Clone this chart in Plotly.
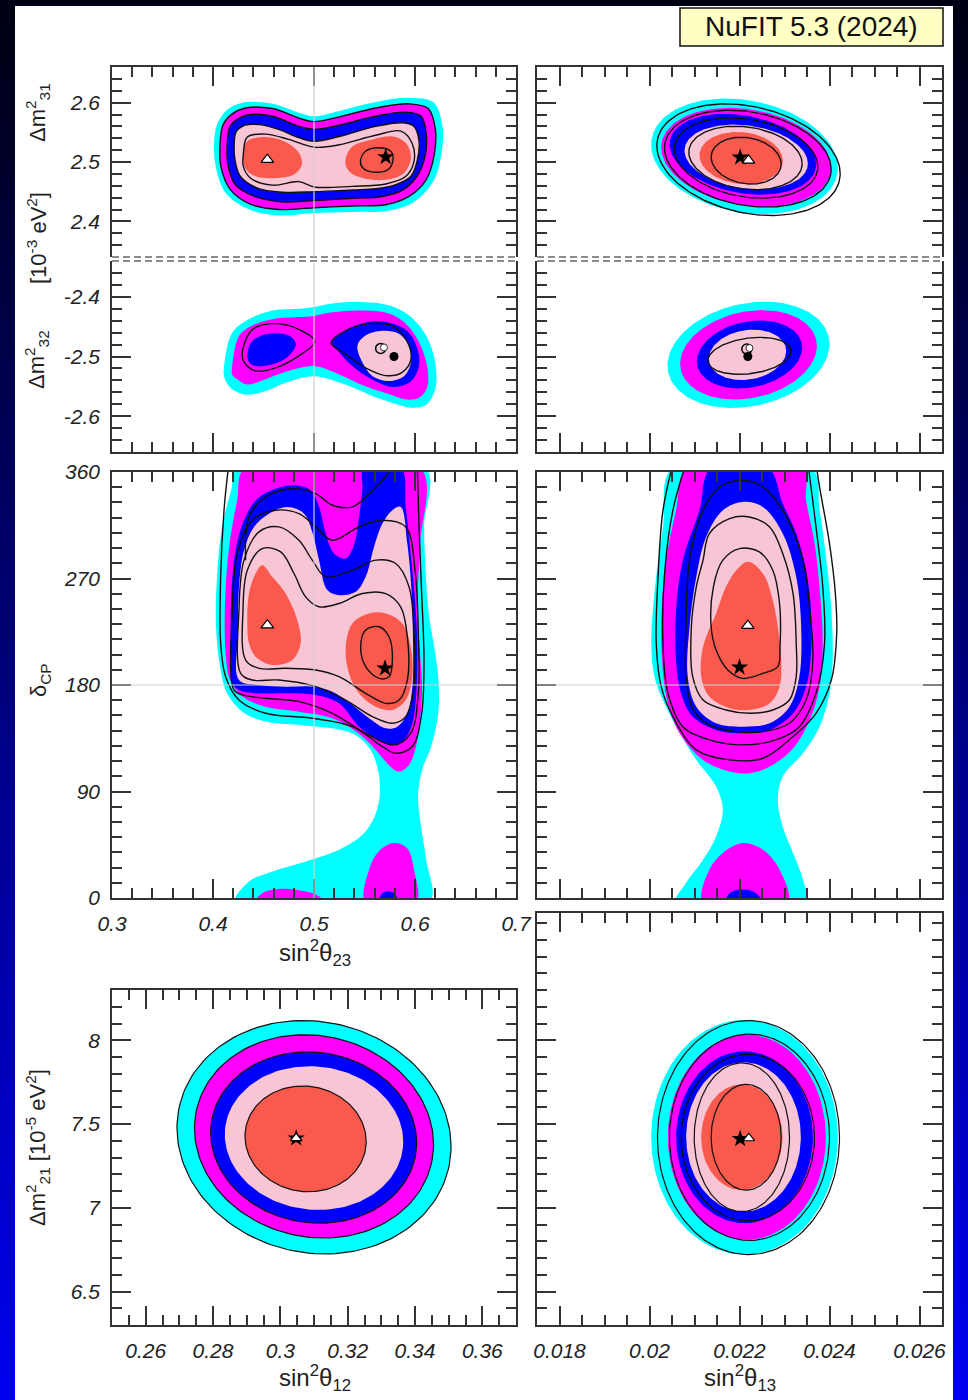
import numpy as np
import plotly.graph_objects as go

W, H = 968, 1400
def PX(v): return v / W
def PY(v): return 1 - v / H

CYAN, MAG, BLUE, PINK, RED = "#00ffff", "#ff00ff", "#0000ff", "#f8c5d5", "#fa5a4e"

# ---------------- Panel A : dm31 vs s23 ----------------
A_cyan = [(0.401,2.529),(0.404,2.563),(0.414,2.588),(0.429,2.600),(0.459,2.598),(0.485,2.583),(0.500,2.577),(0.525,2.586),(0.561,2.601),(0.594,2.608),(0.618,2.601),(0.627,2.563),(0.626,2.512),(0.618,2.467),(0.600,2.434),(0.574,2.418),(0.538,2.416),(0.500,2.414),(0.465,2.410),(0.436,2.420),(0.4125,2.448),(0.403,2.490)]
A_mag = [(0.407,2.529),(0.410,2.563),(0.419,2.581),(0.432,2.591),(0.459,2.590),(0.485,2.574),(0.500,2.568),(0.525,2.576),(0.561,2.591),(0.594,2.598),(0.613,2.590),(0.620,2.557),(0.619,2.512),(0.611,2.470),(0.594,2.442),(0.571,2.428),(0.538,2.426),(0.500,2.423),(0.465,2.420),(0.437,2.429),(0.417,2.454),(0.408,2.491)]
A_blue = [(0.414,2.529),(0.417,2.560),(0.426,2.574),(0.437,2.580),(0.459,2.577),(0.485,2.560),(0.500,2.555),(0.525,2.562),(0.561,2.577),(0.591,2.584),(0.606,2.577),(0.611,2.549),(0.610,2.510),(0.602,2.476),(0.588,2.453),(0.568,2.442),(0.538,2.439),(0.500,2.435),(0.467,2.433),(0.441,2.442),(0.422,2.462),(0.415,2.493)]
A_pink = [(0.421,2.529),(0.423,2.551),(0.432,2.562),(0.446,2.563),(0.465,2.555),(0.485,2.541),(0.500,2.535),(0.525,2.543),(0.561,2.560),(0.588,2.566),(0.599,2.560),(0.604,2.535),(0.602,2.501),(0.596,2.476),(0.581,2.462),(0.561,2.455),(0.538,2.453),(0.500,2.450),(0.469,2.449),(0.444,2.456),(0.427,2.476),(0.422,2.501)]
A_red_left = [(0.430,2.518),(0.434,2.535),(0.449,2.542),(0.469,2.536),(0.484,2.518),(0.488,2.496),(0.480,2.479),(0.462,2.473),(0.442,2.476),(0.432,2.490)]
A_red_right = [(0.531,2.501),(0.538,2.526),(0.558,2.538),(0.578,2.543),(0.591,2.532),(0.596,2.507),(0.589,2.481),(0.571,2.470),(0.548,2.473),(0.535,2.484)]
A_line_90 = [(0.430,2.512),(0.434,2.542),(0.452,2.547),(0.475,2.538),(0.500,2.525),(0.525,2.529),(0.561,2.545),(0.586,2.552),(0.597,2.532),(0.599,2.501),(0.591,2.476),(0.571,2.463),(0.538,2.459),(0.500,2.458),(0.485,2.467),(0.459,2.461),(0.437,2.473),(0.430,2.493)]
A_line_1s = [(0.546,2.501),(0.551,2.518),(0.564,2.524),(0.576,2.518),(0.578,2.501),(0.573,2.487),(0.559,2.483),(0.549,2.489)]
A_tri = (0.4538, 2.5039)
A_star = (0.5710, 2.5084)

# ---------------- Panel B : dm32 vs s23 ----------------
B_cyan = [(0.411,-2.516),(0.419,-2.460),(0.436,-2.437),(0.459,-2.423),(0.485,-2.420),(0.500,-2.417),(0.518,-2.411),(0.551,-2.409),(0.574,-2.414),(0.594,-2.431),(0.611,-2.465),(0.620,-2.510),(0.620,-2.555),(0.611,-2.581),(0.597,-2.586),(0.578,-2.578),(0.558,-2.566),(0.531,-2.547),(0.500,-2.533),(0.472,-2.544),(0.452,-2.558),(0.432,-2.564),(0.417,-2.552),(0.411,-2.533)]
B_mag = [(0.419,-2.516),(0.426,-2.465),(0.439,-2.448),(0.460,-2.437),(0.485,-2.434),(0.500,-2.432),(0.518,-2.426),(0.551,-2.423),(0.574,-2.428),(0.591,-2.445),(0.604,-2.476),(0.612,-2.516),(0.612,-2.552),(0.604,-2.569),(0.591,-2.572),(0.574,-2.563),(0.551,-2.550),(0.525,-2.530),(0.500,-2.516),(0.475,-2.524),(0.452,-2.538),(0.434,-2.547),(0.424,-2.538),(0.419,-2.530)]
B_blue_left = [(0.434,-2.499),(0.439,-2.474),(0.455,-2.462),(0.475,-2.465),(0.482,-2.479),(0.475,-2.499),(0.459,-2.513),(0.442,-2.516),(0.436,-2.510)]
B_blue_right = [(0.518,-2.476),(0.531,-2.457),(0.551,-2.443),(0.574,-2.443),(0.594,-2.460),(0.604,-2.499),(0.602,-2.527),(0.594,-2.544),(0.578,-2.551),(0.558,-2.539),(0.538,-2.516),(0.525,-2.493)]
B_pink = [(0.543,-2.482),(0.551,-2.465),(0.568,-2.457),(0.584,-2.462),(0.594,-2.482),(0.596,-2.510),(0.589,-2.533),(0.574,-2.541),(0.558,-2.533),(0.548,-2.510)]
B_line_left = [(0.429,-2.493),(0.439,-2.455),(0.462,-2.445),(0.488,-2.457),(0.501,-2.475),(0.485,-2.499),(0.462,-2.519),(0.442,-2.524),(0.431,-2.510)]
B_line_right = [(0.517,-2.477),(0.531,-2.457),(0.554,-2.445),(0.578,-2.449),(0.592,-2.474),(0.596,-2.505),(0.587,-2.527),(0.571,-2.532),(0.551,-2.519),(0.531,-2.496)]
B_open = (0.5660, -2.4865)
B_white = (0.5693, -2.4848)
B_black = (0.5792, -2.5000)

# ---------------- ellipse parameters (cx, cy, half-width, half-height, correlation) ----
C_fill = [(0.022111,2.5096,0.002074,0.0974,-0.20),(0.022148,2.5079,0.001889,0.0833,-0.20),
          (0.022074,2.5130,0.001630,0.0681,-0.25),(0.022148,2.5084,0.001370,0.0546,-0.20),
          (0.022037,2.5068,0.000926,0.0439,-0.10)]
C_line = [(0.022200,2.5039,0.002037,0.0940,-0.25),(0.022185,2.5056,0.001852,0.0816,-0.22),
          (0.022148,2.5068,0.001593,0.0676,-0.22),(0.022133,2.5068,0.001259,0.0535,-0.18),
          (0.022148,2.5023,0.000778,0.0394,-0.15)]
C_tri = (0.022200, 2.5028)
C_star = (0.022015, 2.5079)

D_fill = [(0.022200,-2.4972,0.001800,0.0890,0.20),(0.022200,-2.4972,0.001519,0.0749,0.20),
          (0.022222,-2.4966,0.001170,0.0569,0.20),(0.022178,-2.4972,0.000859,0.0422,0.15)]
D_line = [(0.022222,-2.4989,0.000926,0.0310,0.25)]
D_open = (0.022163, -2.4876)
D_white = (0.022222, -2.4859)
D_black = (0.022185, -2.5000)

G_fill = [(0.3100,7.4211,0.0407,0.6967,-0.08),(0.3100,7.4260,0.0355,0.6069,-0.08),
          (0.3099,7.4191,0.0306,0.5112,-0.06),(0.3100,7.4161,0.0265,0.4293,-0.05),
          (0.3075,7.4112,0.0180,0.3158,-0.05)]
G_mark = (0.3047, 7.4151)

H_fill = [(0.022111,7.4211,0.002074,0.7006,0.0),(0.022163,7.4211,0.001756,0.6118,0.0),
          (0.022111,7.4211,0.001519,0.5131,0.0),(0.022089,7.4230,0.001274,0.4460,0.0),
          (0.022052,7.4211,0.000904,0.3158,0.0)]
H_line = [(0.022200,7.4191,0.002022,0.6986,0.0),(0.022222,7.4211,0.001778,0.6158,0.0),
          (0.022185,7.4191,0.001481,0.4974,0.0),(0.022052,7.4211,0.001059,0.4440,0.0),
          (0.022148,7.4211,0.000778,0.3158,0.0)]
H_star = (0.022015, 7.4112)
H_tri = (0.022207, 7.4151)

# ---------------- Panel E : dCP vs s23 ----------------
E_cyan = [(0.425,364),(0.418,344.5),(0.409,313.6),(0.404,271.4),(0.403,229.2),(0.407,195.5),(0.414,173),(0.429,157.5),(0.452,149.1),(0.485,146.3),(0.518,143.4),(0.541,137.8),(0.556,125.2),(0.564,105.5),(0.565,85.8),(0.560,68.9),(0.548,53.4),(0.525,40.8),(0.492,30.9),(0.459,22.5),(0.436,14.1),(0.422,-4),(0.614,-4),(0.611,32.3),(0.606,60.5),(0.603,85.8),(0.607,108.3),(0.616,128),(0.623,156.1),(0.623,187),(0.619,212.3),(0.614,237.7),(0.611,268.6),(0.609,313.6),(0.610,364)]
E_mag = [(0.432,364),(0.424,336.1),(0.416,296.7),(0.412,251.7),(0.4125,206.7),(0.417,184.2),(0.429,170.2),(0.452,161.7),(0.485,157.5),(0.518,151.9),(0.544,139.2),(0.561,125.2),(0.574,112.5),(0.584,106.9),(0.594,112.5),(0.601,128),(0.605,150.5),(0.607,178.6),(0.605,206.7),(0.603,234.8),(0.603,263),(0.605,299.5),(0.605,364)]
E_mag_bot1 = [(0.4416,-4),(0.449,4.2),(0.465,7.6),(0.485,6.5),(0.502,2.8),(0.512,-4)]
E_mag_bot2 = [(0.551,-4),(0.5545,23.9),(0.564,39.4),(0.579,46.4),(0.592,42.2),(0.599,23.9),(0.601,-4)]
E_blue = [(0.4191,181.4),(0.4175,223.6),(0.4185,263),(0.4224,293.9),(0.4307,319.2),(0.4439,337.5),(0.4620,345.9),(0.4818,348.75),(0.4967,344.5),(0.5050,330.5),(0.5116,308),(0.5198,291.1),(0.5314,286.9),(0.5396,298.1),(0.5446,322),(0.5479,344.5),(0.5495,364),(0.5858,364),(0.5908,330.5),(0.5957,291.1),(0.6000,251.7),(0.6023,212.3),(0.6013,173),(0.5974,147.7),(0.5891,133.6),(0.5776,129.4),(0.5611,135),(0.5446,144.8),(0.5248,164.5),(0.5017,171.6),(0.4719,173),(0.4422,173),(0.4257,175.8)]
E_blue_bot = [(0.5644,-4),(0.5677,4.2),(0.5743,5.6),(0.5809,2.8),(0.5825,-4)]
E_pink = [(0.4257,184.2),(0.4247,223.6),(0.4257,263),(0.4307,293.9),(0.4406,313.6),(0.4554,324.8),(0.4736,330.5),(0.4901,324.8),(0.4983,309.4),(0.5050,285.5),(0.5132,260.2),(0.5248,255.9),(0.5413,258.75),(0.5512,271.4),(0.5594,296.7),(0.5677,316.4),(0.5776,327.7),(0.5858,330.5),(0.5924,299.5),(0.5967,257.3),(0.5980,218),(0.5974,178.6),(0.5924,156.1),(0.5825,144.8),(0.5710,143.4),(0.5545,151.9),(0.5380,163.1),(0.5182,174.4),(0.4983,178.6),(0.4719,178.6),(0.4455,180)]
E_red_left = [(0.4340,229.2),(0.4356,257.3),(0.4422,274.2),(0.4488,281.25),(0.4587,271.4),(0.4719,257.3),(0.4835,234.8),(0.4868,215.2),(0.4785,201.1),(0.4587,196.9),(0.4422,203.9),(0.4356,215.2)]
E_red_right = [(0.5314,212.3),(0.5380,232),(0.5545,240.5),(0.5710,240.5),(0.5875,232),(0.5957,212.3),(0.5974,187),(0.5908,167.3),(0.5776,158.9),(0.5611,161.7),(0.5446,173),(0.5347,189.8)]
E_line_1s = [(0.5462,212.3),(0.5512,226.4),(0.5644,229.2),(0.5743,220.8),(0.5776,201.1),(0.5743,187),(0.5644,185.6),(0.5512,195.5)]
E_line_90 = [(0.4323,201.1),(0.4297,243.3),(0.4340,277),(0.4488,295.3),(0.4670,292.5),(0.4802,274.2),(0.4917,254.5),(0.5050,246.1),(0.5248,248.9),(0.5479,257.3),(0.5710,257.3),(0.5858,246.1),(0.5924,220.8),(0.5924,184.2),(0.5842,167.3),(0.5710,164.5),(0.5512,173),(0.5248,187),(0.5017,192.7),(0.4719,194.1),(0.4455,194.1)]
E_line_2s = [(0.4274,189.8),(0.4257,243.3),(0.4307,285.5),(0.4455,309.4),(0.4653,313.6),(0.4851,302.3),(0.4983,285.5),(0.5116,271.4),(0.5380,277),(0.5611,285.5),(0.5809,282.7),(0.5941,263),(0.5990,223.6),(0.5990,178.6),(0.5908,153.3),(0.5776,147.7),(0.5578,153.3),(0.5314,167.3),(0.5017,178.6),(0.4653,184.2),(0.4389,184.2)]
E_line_99 = [(0.4208,175.8),(0.4191,243.3),(0.4241,291.1),(0.4389,319.2),(0.4620,327.7),(0.4851,324.8),(0.5017,313.6),(0.5182,302.3),(0.5446,313.6),(0.5677,319.2),(0.5908,313.6),(0.6000,277),(0.6033,223.6),(0.6033,173),(0.5957,139.2),(0.5792,129.4),(0.5512,139.2),(0.5182,156.1),(0.4851,165.9),(0.4521,168.75),(0.4290,171.6)]
E_line_3s = [(0.4158,368),(0.4109,327.7),(0.4076,271.4),(0.4076,215.2),(0.4125,187),(0.4257,167.3),(0.4521,156.1),(0.4983,151.9),(0.5380,144.8),(0.5677,128),(0.5809,122.3),(0.5974,128),(0.6066,156.1),(0.6089,201.1),(0.6066,257.3),(0.6040,313.6),(0.6023,364)]
E_line_top = [(0.4323,285.5),(0.4356,322),(0.4521,338.9),(0.4785,345.9),(0.5017,341.7),(0.5182,331.9),(0.5380,330.5),(0.5512,338.9),(0.5677,353),(0.5776,364)]
E_tri = (0.4538, 230.6)
E_star = (0.5703, 194.1)

# ---------------- Panel F : dCP vs s13 ----------------
F_cyan = [(0.02052,364),(0.02030,313.6),(0.02011,257.3),(0.02004,215.2),(0.02011,187),(0.02030,167.3),(0.02059,144.8),(0.02104,116.7),(0.02148,94.2),(0.02163,74.5),(0.02148,52),(0.02119,32.3),(0.02081,12.7),(0.02059,-4),(0.02348,-4),(0.02341,15.5),(0.02319,38),(0.02296,60.5),(0.02285,83),(0.02296,102.7),(0.02341,122.3),(0.02378,144.8),(0.02400,173),(0.02407,201.1),(0.02404,243.3),(0.02393,285.5),(0.02378,327.7),(0.02359,364)]
F_mag = [(0.02085,364),(0.02059,327.7),(0.02037,285.5),(0.02027,243.3),(0.02028,201.1),(0.02039,167.3),(0.02067,139.2),(0.02119,116.7),(0.02178,106.9),(0.02222,105.5),(0.02267,111.1),(0.02319,126.6),(0.02356,150.5),(0.02378,178.6),(0.02385,215.2),(0.02379,257.3),(0.02367,299.5),(0.02348,336.1),(0.02341,364)]
F_mag_bot = [(0.02119,-4),(0.02133,23.9),(0.02163,38),(0.02207,46.4),(0.02252,40.8),(0.02289,23.9),(0.02307,-4)]
F_blue = [(0.02137,364),(0.02111,327.7),(0.02074,285.5),(0.02059,243.3),(0.02059,201.1),(0.02070,173),(0.02096,153.3),(0.02148,142),(0.02207,139.2),(0.02267,142),(0.02319,156.1),(0.02348,178.6),(0.02359,206.7),(0.02359,243.3),(0.02348,277),(0.02326,308),(0.02296,333.3),(0.02263,364)]
F_blue_bot = [(0.02170,-4),(0.02178,4.2),(0.02200,7.0),(0.02230,5.6),(0.02252,-4)]
F_pink = [(0.02207,334.7),(0.02252,330.5),(0.02296,308),(0.02326,271.4),(0.02337,229.2),(0.02333,187),(0.02311,161.7),(0.02267,147.7),(0.02207,144.8),(0.02148,147.7),(0.02104,161.7),(0.02085,187),(0.02089,229.2),(0.02104,271.4),(0.02126,305.2),(0.02163,327.7)]
F_red = [(0.02219,284.1),(0.02252,274.2),(0.02274,251.7),(0.02289,218),(0.02293,195.5),(0.02289,178.6),(0.02267,164.5),(0.02222,158.9),(0.02178,160.3),(0.02133,170.2),(0.02115,187),(0.02119,212.3),(0.02148,240.5),(0.02170,263),(0.02193,277)]
F_line_1s = [(0.02137,229.2),(0.02142,263),(0.02163,285.5),(0.02200,295.3),(0.02244,292.5),(0.02274,277),(0.02289,248.9),(0.02290,212.3),(0.02285,195.5),(0.02252,189.8),(0.02207,185.6),(0.02174,192.7),(0.02148,209.5)]
F_line_90 = [(0.02119,285.5),(0.02133,308),(0.02178,320.6),(0.02222,322),(0.02267,313.6),(0.02296,291.1),(0.02319,257.3),(0.02326,215.2),(0.02326,187),(0.02311,167.3),(0.02274,158.9),(0.02222,156.1),(0.02170,158.9),(0.02119,167.3),(0.02096,187),(0.02093,229.2),(0.02104,263)]
F_line_2s = [(0.02081,229.2),(0.02089,285.5),(0.02119,327.7),(0.02156,347.3),(0.02207,353),(0.02252,347.3),(0.02296,327.7),(0.02341,285.5),(0.02356,243.3),(0.02363,201.1),(0.02348,167.3),(0.02311,147.7),(0.02252,140.6),(0.02193,140.6),(0.02133,146.25),(0.02096,160.3),(0.02081,187)]
F_line_99 = [(0.02081,367),(0.02052,327.7),(0.02033,271.4),(0.02030,215.2),(0.02041,173),(0.02074,144.8),(0.02133,133.6),(0.02207,129.4),(0.02281,133.6),(0.02333,144.8),(0.02370,173),(0.02389,215.2),(0.02385,263),(0.02370,313.6),(0.02356,355.8),(0.02352,367)]
F_line_3s = [(0.02052,367),(0.02030,327.7),(0.02019,271.4),(0.02015,215.2),(0.02026,178.6),(0.02052,153.3),(0.02104,125.2),(0.02178,116.7),(0.02252,118.1),(0.02319,136.4),(0.02370,156.1),(0.02404,184.2),(0.02416,223.6),(0.02413,257.3),(0.02400,299.5),(0.02378,347.3),(0.02370,367)]
F_tri = (0.022185, 230.1)
F_star = (0.022000, 194.9)

# ---------------- axis ticks / labels ----------------
s23_ticks = [0.3, 0.4, 0.5, 0.6, 0.7]
s23_labels = ["0.3", "0.4", "0.5", "0.6", "0.7"]
s13_ticks = [0.018, 0.020, 0.022, 0.024, 0.026]
s13_labels = ["0.018", "0.02", "0.022", "0.024", "0.026"]
s12_ticks = [0.26, 0.28, 0.30, 0.32, 0.34, 0.36]
s12_labels = ["0.26", "0.28", "0.3", "0.32", "0.34", "0.36"]
dm31_ticks = [2.4, 2.5, 2.6]
dm31_labels = ["2.4", "2.5", "2.6"]
dm32_ticks = [-2.6, -2.5, -2.4]
dm32_labels = ["-2.6", "-2.5", "-2.4"]
dcp_ticks = [0, 90, 180, 270, 360]
dcp_labels = ["0", "90", "180", "270", "360"]
dm21_ticks = [6.5, 7.0, 7.5, 8.0]
dm21_labels = ["6.5", "7", "7.5", "8"]

fig = go.Figure()

def ax_names(k):
    return ("x" if k == 1 else "x%d" % k), ("y" if k == 1 else "y%d" % k)

def closed(pts):
    xs = [p[0] for p in pts] + [pts[0][0]]
    ys = [p[1] for p in pts] + [pts[0][1]]
    return xs, ys

def fill_poly(pts, color, k):
    xa, ya = ax_names(k)
    xs, ys = closed(pts)
    fig.add_trace(go.Scatter(x=xs, y=ys, mode="lines", fill="toself", fillcolor=color,
                             line=dict(width=0, shape="spline", smoothing=1.0, color=color),
                             xaxis=xa, yaxis=ya, hoverinfo="skip", showlegend=False))

def line_poly(pts, k, close=True, width=1.4):
    xa, ya = ax_names(k)
    if close:
        xs, ys = closed(pts)
    else:
        xs = [p[0] for p in pts]; ys = [p[1] for p in pts]
    fig.add_trace(go.Scatter(x=xs, y=ys, mode="lines",
                             line=dict(width=width, shape="spline", smoothing=1.0, color="#111"),
                             xaxis=xa, yaxis=ya, hoverinfo="skip", showlegend=False))

def ellipse_pts(e):
    cx, cy, a, b, s = e
    t = np.linspace(0, 2 * np.pi, 161)
    ph = np.arcsin(s)
    return cx + a * np.cos(t), cy + b * np.sin(t + ph)

def fill_ell(e, color, k):
    xa, ya = ax_names(k)
    xs, ys = ellipse_pts(e)
    fig.add_trace(go.Scatter(x=xs, y=ys, mode="lines", fill="toself", fillcolor=color,
                             line=dict(width=0, color=color), xaxis=xa, yaxis=ya,
                             hoverinfo="skip", showlegend=False))

def line_ell(e, k, width=1.4):
    xa, ya = ax_names(k)
    xs, ys = ellipse_pts(e)
    fig.add_trace(go.Scatter(x=xs, y=ys, mode="lines", line=dict(width=width, color="#111"),
                             xaxis=xa, yaxis=ya, hoverinfo="skip", showlegend=False))

def marker(p, k, symbol, color, size, lc="#000", lw=1.2):
    xa, ya = ax_names(k)
    fig.add_trace(go.Scatter(x=[p[0]], y=[p[1]], mode="markers",
                             marker=dict(symbol=symbol, color=color, size=size,
                                         line=dict(color=lc, width=lw)),
                             xaxis=xa, yaxis=ya, hoverinfo="skip", showlegend=False, cliponaxis=False))

fill_colors = [CYAN, MAG, BLUE, PINK, RED]

# Panel A (1)
fill_poly(A_cyan, CYAN, 1); fill_poly(A_mag, MAG, 1); fill_poly(A_blue, BLUE, 1)
fill_poly(A_pink, PINK, 1); fill_poly(A_red_left, RED, 1); fill_poly(A_red_right, RED, 1)
for L in (A_mag, A_blue, A_pink, A_line_90, A_line_1s):
    line_poly(L, 1)
marker(A_tri, 1, "triangle-up", "white", 11)
marker(A_star, 1, "star", "black", 13, lw=0)

# Panel B (2)
fill_poly(B_cyan, CYAN, 2); fill_poly(B_mag, MAG, 2)
fill_poly(B_blue_left, BLUE, 2); fill_poly(B_blue_right, BLUE, 2); fill_poly(B_pink, PINK, 2)
line_poly(B_line_left, 2); line_poly(B_line_right, 2)
marker(B_open, 2, "circle-open", "black", 10, lw=1.5)
marker(B_white, 2, "circle", "white", 7, lw=0.8)
marker(B_black, 2, "circle", "black", 9, lw=0)

# Panel C (3)
for e, c in zip(C_fill, fill_colors):
    fill_ell(e, c, 3)
for e in C_line:
    line_ell(e, 3)
marker(C_star, 3, "star", "black", 13, lw=0)
marker(C_tri, 3, "triangle-up", "white", 11)

# Panel D (4)
for e, c in zip(D_fill, fill_colors):
    fill_ell(e, c, 4)
for e in D_line:
    line_ell(e, 4)
marker(D_open, 4, "circle-open", "black", 10, lw=1.5)
marker(D_white, 4, "circle", "white", 7, lw=0.8)
marker(D_black, 4, "circle", "black", 9, lw=0)

# Panel E (5)
fill_poly(E_cyan, CYAN, 5); fill_poly(E_mag, MAG, 5)
fill_poly(E_mag_bot1, MAG, 5); fill_poly(E_mag_bot2, MAG, 5)
fill_poly(E_blue, BLUE, 5); fill_poly(E_blue_bot, BLUE, 5)
fill_poly(E_pink, PINK, 5); fill_poly(E_red_left, RED, 5); fill_poly(E_red_right, RED, 5)
for L in (E_line_1s, E_line_90, E_line_2s, E_line_99):
    line_poly(L, 5)
line_poly(E_line_3s, 5, close=False); line_poly(E_line_top, 5, close=False)
marker(E_tri, 5, "triangle-up", "white", 11)
marker(E_star, 5, "star", "black", 13, lw=0)

# Panel F (6)
fill_poly(F_cyan, CYAN, 6); fill_poly(F_mag, MAG, 6); fill_poly(F_mag_bot, MAG, 6)
fill_poly(F_blue, BLUE, 6); fill_poly(F_blue_bot, BLUE, 6)
fill_poly(F_pink, PINK, 6); fill_poly(F_red, RED, 6)
for L in (F_line_1s, F_line_90, F_line_2s):
    line_poly(L, 6)
line_poly(F_line_99, 6, close=False); line_poly(F_line_3s, 6, close=False)
marker(F_tri, 6, "triangle-up", "white", 11)
marker(F_star, 6, "star", "black", 13, lw=0)

# Panel G (7)
for e, c in zip(G_fill, fill_colors):
    fill_ell(e, c, 7)
for i in (0, 1, 2, 4):
    line_ell(G_fill[i], 7, width=1.2)
marker(G_mark, 7, "star", "black", 13, lw=0)
marker(G_mark, 7, "triangle-up", "white", 10)

# Panel H (8)
for e, c in zip(H_fill, fill_colors):
    fill_ell(e, c, 8)
for e in H_line:
    line_ell(e, 8, width=1.2)
marker(H_star, 8, "star", "black", 13, lw=0)
marker(H_tri, 8, "triangle-up", "white", 10)

# ---------------- layout ----------------
TF = dict(family="Liberation Sans, Arial, sans-serif", size=21, color="#222", style="italic")

def mk_axis(domain, rng, tv, tt, minor_vals, anchor, side, mirror, labels):
    return dict(domain=domain, range=rng, tickmode="array", tickvals=tv, ticktext=tt,
                ticks="inside", ticklen=19, tickwidth=1.5, tickcolor="#333",
                showline=True, linecolor="#333", linewidth=1.5, mirror=mirror, side=side,
                showticklabels=labels, showgrid=False, zeroline=False, anchor=anchor,
                automargin=False, tickfont=TF, ticklabelstandoff=6, fixedrange=True,
                minor=dict(ticks="inside", ticklen=10, tickwidth=1.5, tickcolor="#333",
                           tickmode="array", tickvals=list(minor_vals), showgrid=False))

xL = [PX(112), PX(516)]
xR = [PX(537), PX(942)]
yA = [PY(257), PY(67)]
yB = [PY(452), PY(261)]
yE = [PY(898), PY(472)]
yG = [PY(1325), PY(990)]
yH = [PY(1325), PY(913)]

m_s23 = np.round(np.arange(0.30, 0.7001, 0.02), 4)
m_s13 = np.round(np.arange(0.0175, 0.02651, 0.0005), 5)
m_s12 = np.round(np.arange(0.25, 0.3701, 0.005), 4)
m_dm31 = np.round(np.arange(2.34, 2.6601, 0.02), 3)
m_dm32 = np.round(np.arange(-2.66, -2.3399, 0.02), 3)
m_dcp = np.round(np.arange(0, 29) * 90.0 / 7.0, 3)
m_dm21 = np.round(np.arange(6.3, 8.801, 0.1), 2)

lay = dict(
    xaxis=mk_axis(xL, [0.3, 0.7], s23_ticks, s23_labels, m_s23, "y", "top", False, False),
    yaxis=mk_axis(yA, [2.34, 2.66], dm31_ticks, dm31_labels, m_dm31, "x", "left", "ticks", True),
    xaxis2=mk_axis(xL, [0.3, 0.7], s23_ticks, s23_labels, m_s23, "y2", "bottom", False, False),
    yaxis2=mk_axis(yB, [-2.66, -2.34], dm32_ticks, dm32_labels, m_dm32, "x2", "left", "ticks", True),
    xaxis3=mk_axis(xR, [0.0175, 0.0265], s13_ticks, s13_labels, m_s13, "y3", "top", False, False),
    yaxis3=mk_axis(yA, [2.34, 2.66], dm31_ticks, dm31_labels, m_dm31, "x3", "left", "ticks", False),
    xaxis4=mk_axis(xR, [0.0175, 0.0265], s13_ticks, s13_labels, m_s13, "y4", "bottom", False, False),
    yaxis4=mk_axis(yB, [-2.66, -2.34], dm32_ticks, dm32_labels, m_dm32, "x4", "left", "ticks", False),
    xaxis5=mk_axis(xL, [0.3, 0.7], s23_ticks, s23_labels, m_s23, "y5", "bottom", "ticks", True),
    yaxis5=mk_axis(yE, [0, 360], dcp_ticks, dcp_labels, m_dcp, "x5", "left", "ticks", True),
    xaxis6=mk_axis(xR, [0.0175, 0.0265], s13_ticks, s13_labels, m_s13, "y6", "bottom", "ticks", False),
    yaxis6=mk_axis(yE, [0, 360], dcp_ticks, dcp_labels, m_dcp, "x6", "left", "ticks", False),
    xaxis7=mk_axis(xL, [0.25, 0.37], s12_ticks, s12_labels, m_s12, "y7", "bottom", "ticks", True),
    yaxis7=mk_axis(yG, [6.3, 8.3], dm21_ticks, dm21_labels, m_dm21, "x7", "left", "ticks", True),
    xaxis8=mk_axis(xR, [0.0175, 0.0265], s13_ticks, s13_labels, m_s13, "y8", "bottom", "ticks", True),
    yaxis8=mk_axis(yH, [6.3, 8.76], dm21_ticks, dm21_labels, m_dm21, "x8", "left", "ticks", False),
)

shapes = []
NST = 70
for i in range(NST):
    f = (i + 0.5) / NST
    b = int(18 + 222 * f)
    shapes.append(dict(type="rect", xref="paper", yref="paper", x0=0, x1=1,
                       y0=1 - (i + 1) / NST - 0.001, y1=1 - i / NST,
                       fillcolor="rgb(0,0,%d)" % b, line=dict(width=0), layer="below"))
shapes.append(dict(type="rect", xref="paper", yref="paper", x0=PX(15), x1=PX(953), y0=0, y1=PY(6),
                   fillcolor="white", line=dict(width=0), layer="below"))
for (xa, ya, yv) in (("x", "y", 0), ("x2", "y2", 1), ("x3", "y3", 0), ("x4", "y4", 1)):
    shapes.append(dict(type="line", xref=xa + " domain", yref=ya + " domain", x0=0, x1=1, y0=yv, y1=yv,
                       line=dict(color="#666", width=1.5, dash="7px,4px"), layer="above"))
for ya in ("y", "y2", "y5"):
    xa = {"y": "x", "y2": "x2", "y5": "x5"}[ya]
    shapes.append(dict(type="line", xref=xa, yref=ya + " domain", x0=0.5, x1=0.5, y0=0, y1=1,
                       line=dict(color="#d0d0d0", width=1.2), layer="above"))
for xa, ya in (("x5", "y5"), ("x6", "y6")):
    shapes.append(dict(type="line", xref=xa + " domain", yref=ya, x0=0, x1=1, y0=180, y1=180,
                       line=dict(color="#d0d0d0", width=1.2), layer="above"))
shapes.append(dict(type="rect", xref="paper", yref="paper", x0=PX(680), x1=PX(943), y0=PY(46), y1=PY(8),
                   fillcolor="#ffffc4", line=dict(color="#111", width=1.5), layer="above"))

AF = dict(family="Liberation Sans, Arial, sans-serif", size=22, color="#222")
AF2 = dict(family="Liberation Sans, Arial, sans-serif", size=24, color="#222")
annots = [
    dict(x=PX(811), y=PY(27), text="NuFIT 5.3 (2024)", font=dict(family="Liberation Sans, Arial, sans-serif", size=28, color="#111")),
    dict(x=PX(37), y=PY(113), text="Δm<sup>2</sup><sub>31</sub>", textangle=-90, font=AF),
    dict(x=PX(37), y=PY(238), text="[10<sup>-3</sup> eV<sup>2</sup>]", textangle=-90, font=AF),
    dict(x=PX(37), y=PY(360), text="Δm<sup>2</sup><sub>32</sub>", textangle=-90, font=AF),
    dict(x=PX(40), y=PY(680), text="δ<sub>CP</sub>", textangle=-90, font=AF),
    dict(x=PX(37), y=PY(1148), text="Δm<sup>2</sup><sub>21</sub> [10<sup>-5</sup> eV<sup>2</sup>]", textangle=-90, font=AF),
    dict(x=PX(315), y=PY(953), text="sin<sup>2</sup>θ<sub>23</sub>", font=AF2),
    dict(x=PX(315), y=PY(1378), text="sin<sup>2</sup>θ<sub>12</sub>", font=AF2),
    dict(x=PX(740), y=PY(1378), text="sin<sup>2</sup>θ<sub>13</sub>", font=AF2),
]
for a in annots:
    a.update(xref="paper", yref="paper", showarrow=False, xanchor="center", yanchor="middle")

fig.update_layout(width=W, height=H, margin=dict(l=0, r=0, t=0, b=0, pad=0, autoexpand=False),
                  paper_bgcolor="#000040", plot_bgcolor="white", showlegend=False,
                  shapes=shapes, annotations=annots, **lay)

fig.write_html("out.html")
